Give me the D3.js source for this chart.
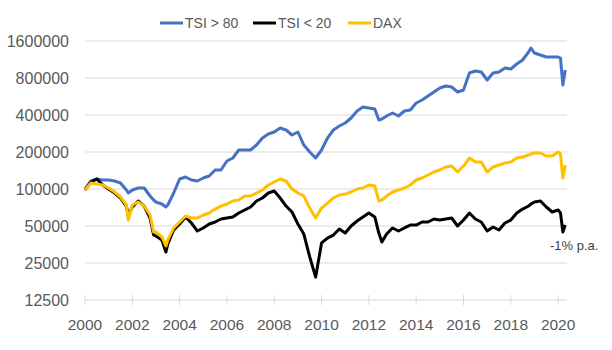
<!DOCTYPE html>
<html>
<head>
<meta charset="utf-8">
<script src="https://cdn.jsdelivr.net/npm/d3@7"></script>
<style>
    body { margin: 0; background: #fff; }
    text { font-family: "Liberation Sans", Arial, sans-serif; fill: #595959; }
</style>
</head>
<body>
<div id="chart"></div>
<script>
// values (decimal year on the axis, index level)
const years = [
    2000.00, 2000.25, 2000.50, 2000.75, 2001.00, 2001.25, 2001.50, 2001.75, 2001.83, 2002.00,
    2002.25, 2002.50, 2002.75, 2002.90, 2003.00, 2003.25, 2003.42, 2003.50, 2003.75, 2004.00,
    2004.25, 2004.50, 2004.75, 2005.00, 2005.25, 2005.50, 2005.75, 2006.00, 2006.25, 2006.50,
    2006.75, 2007.00, 2007.25, 2007.50, 2007.75, 2008.00, 2008.25, 2008.50, 2008.75, 2009.00,
    2009.25, 2009.50, 2009.75, 2010.00, 2010.25, 2010.50, 2010.75, 2011.00, 2011.25, 2011.50,
    2011.75, 2012.00, 2012.25, 2012.42, 2012.55, 2012.75, 2013.00, 2013.25, 2013.50, 2013.75,
    2014.00, 2014.25, 2014.50, 2014.75, 2015.00, 2015.25, 2015.50, 2015.75, 2016.00, 2016.25,
    2016.50, 2016.75, 2017.00, 2017.25, 2017.50, 2017.75, 2018.00, 2018.25, 2018.50, 2018.75,
    2018.85, 2019.00, 2019.25, 2019.50, 2019.75, 2020.00, 2020.10, 2020.20, 2020.30
];
const tsiHigh = [
    100000, 116200, 120600, 118400, 118400, 116200, 111900, 98100, 92800, 98100,
    101900, 101900, 87700, 81400, 78400, 75500, 71400, 74100, 92800, 120600,
    125200, 118400, 116200, 122900, 127600, 142700, 142700, 168900, 178700, 207600,
    207600, 207600, 228000, 259900, 280200, 290900, 313500, 302000, 275000, 290900,
    228000, 200000, 178700, 207600, 259900, 302000, 325500, 344300, 378100, 431100,
    464600, 456000, 447600, 364200, 371000, 392500, 415300, 392500, 431100, 439300,
    500800, 529700, 570900, 615400, 663200, 688500, 675800, 615400, 638800, 878600,
    912100, 895100, 770400, 878600, 895100, 964700, 946900, 1039800, 1120700, 1301800,
    1403100, 1277700, 1230700, 1185400, 1185400, 1185400, 1163400, 701600, 929300
];
const tsiLow = [
    98100, 114000, 120600, 107800, 100000, 92800, 84500, 72700, 60300, 71400,
    79900, 72700, 58100, 42200, 41500, 38500, 30700, 35700, 46400, 51900,
    59200, 52900, 45500, 48200, 51900, 53900, 57000, 58100, 59200, 63800,
    67500, 71400, 79900, 84500, 92800, 96300, 84500, 72700, 65000, 51900,
    43000, 28000, 19200, 36400, 39900, 42200, 47300, 43800, 50000, 54900,
    59200, 63800, 59200, 43800, 37000, 43000, 48200, 45500, 48200, 50900,
    50900, 53900, 53900, 57000, 55900, 57000, 58100, 50000, 55900, 63800,
    57000, 53900, 45500, 49100, 46400, 52900, 55900, 63800, 68700, 72700,
    75500, 78400, 79900, 71400, 65000, 67500, 63800, 44700, 50900
];
const dax = [
    98100, 111900, 109800, 107800, 101900, 94500, 86100, 74100, 55900, 74100,
    78400, 72700, 61400, 44700, 44700, 40700, 34400, 38500, 48200, 53900,
    60300, 58100, 58100, 61400, 63800, 68700, 72700, 75500, 79900, 81400,
    87700, 87700, 92800, 98100, 107800, 114000, 120600, 116200, 100000, 92800,
    87700, 70000, 58100, 70000, 76900, 84500, 89400, 91000, 94500, 100000,
    101900, 107800, 105800, 79900, 81400, 87700, 94500, 98100, 101900, 107800,
    118400, 122900, 130000, 137500, 142700, 151000, 153800, 137500, 153800, 178700,
    165800, 165800, 137500, 151000, 156700, 162700, 165800, 178700, 182100, 189000,
    192600, 196200, 196200, 185500, 185500, 200000, 192600, 122900, 156700
];
const seriesNames = ["TSI > 80", "TSI < 20", "DAX"];
const seriesColors = ["#4472C4", "#000000", "#FFC000"];
const yTicks = [12500, 25000, 50000, 100000, 200000, 400000, 800000, 1600000];
const xTicks = [2000, 2002, 2004, 2006, 2008, 2010, 2012, 2014, 2016, 2018, 2020];
const note = "-1% p.a.";

const width = 612, height = 350;
const margin = {left: 85, right: 567, top: 41, bottom: 300};

const svg = d3.select("#chart").append("svg")
    .attr("width", width)
    .attr("height", height);

const x = d3.scaleLinear().domain([2000, 2020.375]).range([margin.left, margin.right]);
const y = d3.scaleLog().base(2).domain([12500, 1600000]).range([margin.bottom, margin.top]);

// gridlines
svg.append("g")
    .selectAll("line")
    .data(yTicks)
    .join("line")
    .attr("x1", margin.left).attr("x2", margin.right)
    .attr("y1", d => y(d)).attr("y2", d => y(d))
    .attr("stroke", "#D9D9D9")
    .attr("stroke-width", 1);

// y labels
svg.append("g")
    .selectAll("text")
    .data(yTicks)
    .join("text")
    .attr("x", 69)
    .attr("y", d => y(d) + 5.5)
    .attr("text-anchor", "end")
    .style("font-size", "16px")
    .text(d => d);

// x axis ticks + labels
const xg = svg.append("g");
xg.selectAll("line")
    .data(xTicks)
    .join("line")
    .attr("x1", d => x(d)).attr("x2", d => x(d))
    .attr("y1", margin.bottom - 5).attr("y2", margin.bottom + 5)
    .attr("stroke", "#D9D9D9");
xg.selectAll("text")
    .data(xTicks)
    .join("text")
    .attr("x", d => x(d))
    .attr("y", 330)
    .attr("text-anchor", "middle")
    .style("font-size", "15.5px")
    .text(d => d);

// lines
const allSeries = [tsiHigh, tsiLow, dax];
const line = d3.line()
    .x((d, i) => x(years[i]))
    .y(d => y(d));

svg.append("g")
    .selectAll("path")
    .data(allSeries)
    .join("path")
    .attr("d", d => line(d))
    .attr("fill", "none")
    .attr("stroke", (d, i) => seriesColors[i])
    .attr("stroke-width", 3)
    .attr("stroke-linejoin", "round");

// legend
const legendX = [160, 253, 348];
const legend = svg.append("g")
    .selectAll("g")
    .data(seriesNames)
    .join("g")
    .attr("transform", (d, i) => `translate(${legendX[i]}, 23)`);
legend.append("line")
    .attr("x1", 0).attr("x2", 23)
    .attr("stroke", (d, i) => seriesColors[i])
    .attr("stroke-width", 3);
legend.append("text")
    .attr("x", 25)
    .attr("y", 5)
    .style("font-size", "14px")
    .text(d => d);

// annotation
svg.append("text")
    .attr("x", 550)
    .attr("y", 250)
    .style("font-size", "13px")
    .style("fill", "#404040")
    .text(note);
</script>
</body>
</html>
